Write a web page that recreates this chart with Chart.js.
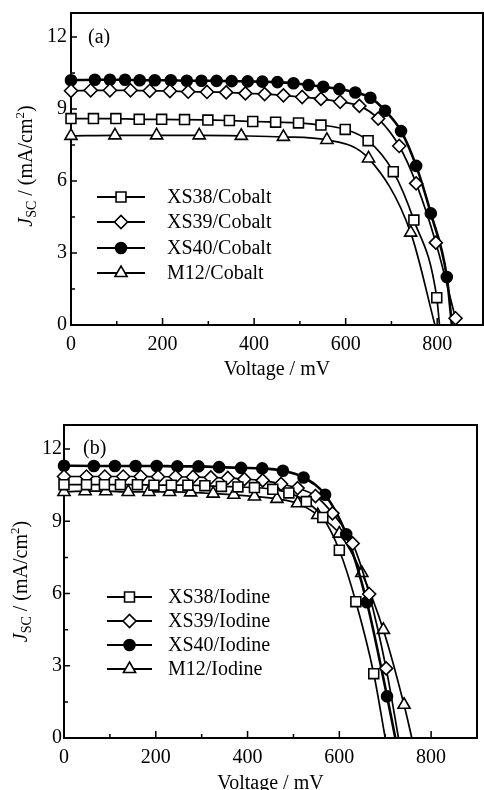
<!DOCTYPE html>
<html><head><meta charset="utf-8">
<script src="https://cdn.jsdelivr.net/npm/chart.js@4.4.1/dist/chart.umd.min.js"></script>
<style>
html,body{margin:0;padding:0;background:#fff;}
#wrap{position:relative;width:484px;height:790px;overflow:hidden;background:#fff;}
canvas{position:absolute;left:0;}
#ca{top:0;} #cb{top:395px;}
</style></head><body>
<div id="wrap"><canvas id="ca" width="484" height="392"></canvas><canvas id="cb" width="484" height="410"></canvas></div>
<script>
// ---------- data ----------
const cobaltLabels = ['XS38/Cobalt', 'XS39/Cobalt', 'XS40/Cobalt', 'M12/Cobalt'];
const iodineLabels = ['XS38/Iodine', 'XS39/Iodine', 'XS40/Iodine', 'M12/Iodine'];

const cobaltXS38V = [0, 49, 98, 149, 198, 248, 299, 346, 397, 447, 497, 546, 599, 649, 704, 749, 799, 805];
const cobaltXS38J = [8.6, 8.6, 8.6, 8.57, 8.57, 8.56, 8.54, 8.52, 8.48, 8.45, 8.42, 8.33, 8.15, 7.68, 6.39, 4.37, 1.14, 0];
const cobaltXS39V = [0, 43, 85, 130, 172, 216, 256, 297, 339, 381, 423, 464, 505, 546, 588, 630, 671, 717, 754, 797, 840];
const cobaltXS39J = [9.76, 9.78, 9.78, 9.78, 9.76, 9.75, 9.72, 9.71, 9.69, 9.65, 9.62, 9.57, 9.5, 9.42, 9.3, 9.13, 8.6, 7.46, 5.9, 3.43, 0.28];
const cobaltXS40V = [0, 52, 85, 118, 150, 183, 218, 253, 285, 318, 351, 386, 418, 451, 486, 519, 551, 586, 621, 654, 686, 721, 754, 786, 821, 832];
const cobaltXS40J = [10.2, 10.22, 10.22, 10.22, 10.2, 10.2, 10.2, 10.18, 10.18, 10.17, 10.16, 10.15, 10.14, 10.12, 10.07, 10.0, 9.93, 9.83, 9.69, 9.47, 8.93, 8.08, 6.63, 4.65, 2.0, 0];
const cobaltM12V  = [0, 96, 187, 280, 372, 464, 559, 650, 742, 795];
const cobaltM12J  = [7.88, 7.9, 7.9, 7.9, 7.88, 7.84, 7.71, 6.94, 3.85, 0];

const iodineXS38V = [0, 49, 88, 123, 160, 196, 234, 270, 307, 343, 379, 415, 455, 490, 528, 564, 600, 636, 675, 700];
const iodineXS38J = [10.52, 10.52, 10.52, 10.52, 10.52, 10.5, 10.5, 10.5, 10.48, 10.45, 10.43, 10.4, 10.33, 10.18, 9.82, 9.16, 7.8, 5.66, 2.67, 0];
const iodineXS39V = [0, 49, 89, 129, 167, 205, 243, 281, 320, 357, 393, 433, 473, 509, 548, 585, 629, 665, 702, 729];
const iodineXS39J = [10.86, 10.86, 10.86, 10.86, 10.86, 10.85, 10.85, 10.84, 10.82, 10.8, 10.75, 10.7, 10.55, 10.38, 10.05, 9.33, 8.08, 5.98, 2.89, 0];
const iodineXS40V = [0, 65, 111, 156, 202, 247, 293, 338, 386, 432, 477, 522, 569, 615, 660, 704, 722];
const iodineXS40J = [11.31, 11.3, 11.3, 11.3, 11.3, 11.28, 11.28, 11.25, 11.22, 11.2, 11.1, 10.82, 10.1, 8.46, 5.64, 1.73, 0];
const iodineM12V  = [0, 46, 91, 140, 185, 230, 276, 325, 370, 415, 464, 509, 553, 600, 649, 696, 741, 758];
const iodineM12J  = [10.22, 10.25, 10.25, 10.22, 10.22, 10.22, 10.2, 10.15, 10.1, 10.03, 9.93, 9.75, 9.26, 8.49, 6.85, 4.49, 1.38, 0];

const xTicks = [0, 200, 400, 600, 800];
const xMinorTicks = [100, 300, 500, 700];
const yTicks = [0, 3, 6, 9, 12];
const yMinorTicks = [1.5, 4.5, 7.5, 10.5];

// ---------- helpers ----------
const SERIF = '"Liberation Serif", "Times New Roman", serif';
const pts = (V, J) => V.map((v, i) => ({x: v, y: J[i]}));

const styles = [
  {pointStyle: 'rect', r: 7, fill: '#fff', lw: 1.7},
  {pointStyle: 'rectRot', r: 6.5, fill: '#fff', lw: 1.7},
  {pointStyle: 'circle', r: 5.5, fill: '#000', lw: 2.6},
  {pointStyle: 'triangle', r: 7, fill: '#fff', lw: 1.7}
];

function makeDatasets(labels, series) {
  return series.map((s, i) => {
    const st = styles[i];
    return {
      label: labels[i],
      data: pts(s[0], s[1]),
      borderColor: '#000',
      borderWidth: st.lw,
      backgroundColor: st.fill,
      pointStyle: st.pointStyle,
      pointBackgroundColor: st.fill,
      pointBorderColor: '#000',
      pointBorderWidth: 1.6,
      pointRadius: ctx => (ctx.raw && ctx.raw.y === 0) ? 0 : st.r,
      cubicInterpolationMode: 'monotone',
      clip: false,
      fill: false
    };
  });
}

function marker(ctx, style, r, x, y, fill) {
  ctx.beginPath();
  if (style === 'circle') {
    ctx.arc(x, y, r, 0, Math.PI * 2);
  } else if (style === 'rect') {
    const h = r * Math.SQRT1_2;
    ctx.rect(x - h, y - h, 2 * h, 2 * h);
  } else if (style === 'rectRot') {
    ctx.moveTo(x - r, y); ctx.lineTo(x, y - r); ctx.lineTo(x + r, y); ctx.lineTo(x, y + r); ctx.closePath();
  } else if (style === 'triangle') {
    let a = 0;
    ctx.moveTo(x + Math.sin(a) * r, y - Math.cos(a) * r);
    a += 2 * Math.PI / 3; ctx.lineTo(x + Math.sin(a) * r, y - Math.cos(a) * r);
    a += 2 * Math.PI / 3; ctx.lineTo(x + Math.sin(a) * r, y - Math.cos(a) * r);
    ctx.closePath();
  }
  ctx.fillStyle = fill; ctx.fill();
  ctx.lineWidth = 1.6; ctx.strokeStyle = '#000'; ctx.stroke();
}

const decor = {
  id: 'decor',
  beforeDatasetsDraw(chart, args, o) {
    const {ctx, chartArea: a} = chart;
    const xs = chart.scales.x, ys = chart.scales.y;
    ctx.save();
    ctx.strokeStyle = '#000';
    ctx.lineWidth = 1.5;
    ctx.beginPath();
    xTicks.forEach(v => { const p = xs.getPixelForValue(v); ctx.moveTo(p, a.bottom); ctx.lineTo(p, a.bottom - 7); });
    xMinorTicks.forEach(v => { const p = xs.getPixelForValue(v); ctx.moveTo(p, a.bottom); ctx.lineTo(p, a.bottom - 4); });
    yTicks.forEach(v => { const p = ys.getPixelForValue(v); ctx.moveTo(a.left, p); ctx.lineTo(a.left + 6, p); });
    yMinorTicks.forEach(v => { const p = ys.getPixelForValue(v); ctx.moveTo(a.left, p); ctx.lineTo(a.left + 4, p); });
    ctx.stroke();
    ctx.lineWidth = 2;
    ctx.strokeRect(a.left, a.top, a.right - a.left, a.bottom - a.top);
    ctx.restore();
  },
  afterDraw(chart, args, o) {
    const {ctx, chartArea: a} = chart;
    ctx.save();
    // panel label
    ctx.fillStyle = '#000';
    ctx.font = '20px ' + SERIF;
    ctx.textBaseline = 'middle';
    ctx.textAlign = 'left';
    ctx.fillText(o.panel, o.panelX, o.panelY);
    // legend
    chart.data.datasets.forEach((ds, i) => {
      const y = o.rows[i];
      ctx.beginPath();
      ctx.lineWidth = 2; ctx.strokeStyle = '#000';
      ctx.moveTo(o.lineX[0], y); ctx.lineTo(o.lineX[1], y); ctx.stroke();
      const st = styles[i];
      marker(ctx, st.pointStyle, st.r, (o.lineX[0] + o.lineX[1]) / 2, y, st.fill);
      ctx.fillStyle = '#000';
      ctx.font = '20px ' + SERIF;
      ctx.textBaseline = 'middle';
      ctx.fillText(ds.label, o.textX, y + 1);
    });
    // y title with sub/superscript
    ctx.translate(o.yTitleX, (a.top + a.bottom) / 2 + o.yTitleDy);
    ctx.rotate(-Math.PI / 2);
    const parts = [
      {t: 'J', f: 'italic 20px ' + SERIF, dy: 0},
      {t: 'SC', f: '14px ' + SERIF, dy: 4},
      {t: ' / (mA/cm', f: '20px ' + SERIF, dy: 0},
      {t: '2', f: '13px ' + SERIF, dy: -8},
      {t: ')', f: '20px ' + SERIF, dy: 0}
    ];
    let total = 0;
    parts.forEach(p => { ctx.font = p.f; p.w = ctx.measureText(p.t).width; total += p.w; });
    let x = -total / 2;
    ctx.textBaseline = 'alphabetic';
    ctx.textAlign = 'left';
    parts.forEach(p => { ctx.font = p.f; ctx.fillText(p.t, x, 7 + p.dy); x += p.w; });
    ctx.restore();
  }
};

function makeChart(id, labels, series, cfg) {
  return new Chart(document.getElementById(id), {
    type: 'line',
    data: {datasets: makeDatasets(labels, series)},
    plugins: [decor],
    options: {
      responsive: false,
      animation: false,
      events: [],
      layout: {padding: cfg.padding, autoPadding: false},
      plugins: {legend: {display: false}, tooltip: {enabled: false}, decor: cfg.decor},
      scales: {
        x: {
          type: 'linear', min: 0, max: 900,
          afterBuildTicks: s => { s.ticks = xTicks.map(v => ({value: v})); },
          afterFit: s => { s.height = cfg.xHeight; s.paddingLeft = 0; s.paddingRight = 0; },
          grid: {display: true, drawOnChartArea: false, drawTicks: false},
          border: {display: false},
          ticks: {autoSkip: false, maxRotation: 0, padding: 8, color: '#000', font: {family: SERIF, size: 20}},
          title: {display: true, text: 'Voltage / mV', color: '#000', font: {family: SERIF, size: 20}, padding: {top: 0, bottom: cfg.titlePad}}
        },
        y: {
          type: 'linear', min: 0, max: 13,
          afterBuildTicks: s => { s.ticks = yTicks.map(v => ({value: v})); },
          afterFit: s => { s.width = cfg.yWidth; s.paddingTop = 0; s.paddingBottom = 0; },
          grid: {display: true, drawOnChartArea: false, drawTicks: false},
          border: {display: false},
          ticks: {autoSkip: false, padding: cfg.yPad, color: '#000', font: {family: SERIF, size: 20}},
          title: {display: false}
        }
      }
    }
  });
}

makeChart('ca', cobaltLabels,
  [[cobaltXS38V, cobaltXS38J], [cobaltXS39V, cobaltXS39J], [cobaltXS40V, cobaltXS40J], [cobaltM12V, cobaltM12J]],
  {padding: {top: 13, right: 1, left: 0, bottom: 0}, xHeight: 67, yWidth: 71, yPad: 4, titlePad: 10,
   decor: {panel: '(a)', panelX: 88, panelY: 38, lineX: [97, 145], rows: [197, 222, 248, 273], textX: 167, yTitleX: 25, yTitleDy: -3}});

makeChart('cb', iodineLabels,
  [[iodineXS38V, iodineXS38J], [iodineXS39V, iodineXS39J], [iodineXS40V, iodineXS40J], [iodineM12V, iodineM12J]],
  {padding: {top: 30, right: 7, left: 0, bottom: 0}, xHeight: 67, yWidth: 64, yPad: 2, titlePad: 9,
   decor: {panel: '(b)', panelX: 83, panelY: 54, lineX: [107, 152], rows: [202, 226, 250, 274], textX: 168, yTitleX: 20, yTitleDy: 0}});
</script>
</body></html>
